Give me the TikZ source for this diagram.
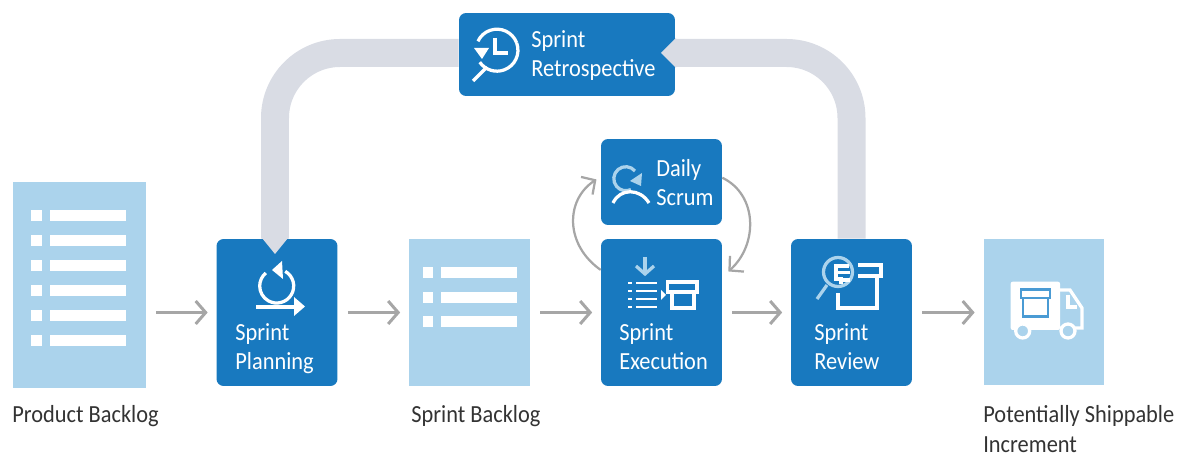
\documentclass[tikz,border=0pt]{standalone}
\usepackage{fontspec}
\setmainfont[FakeStretch=0.91]{Carlito}
\usetikzlibrary{arrows.meta}

\definecolor{boxblue}{HTML}{1879BF}
\definecolor{sheetblue}{HTML}{ABD3EC}
\definecolor{bandgrey}{HTML}{D9DCE4}
\definecolor{flowgrey}{HTML}{A6A6A6}
\definecolor{capgrey}{HTML}{333333}
\definecolor{crateblue}{HTML}{4A9BD4}

\begin{document}
\begin{tikzpicture}[x=0.02cm, y=-0.02cm,
	bluebox/.style={rectangle, fill=boxblue, rounded corners=0.14cm, minimum width=2.42cm, minimum height=2.94cm, inner sep=0pt},
	sheet/.style={rectangle, fill=sheetblue, minimum width=2.42cm, minimum height=2.94cm, inner sep=0pt},
	boxtext/.style={anchor=west, align=left, inner sep=0pt, text=white, font=\fontsize{14}{16.4}\selectfont},
	caption/.style={anchor=west, align=left, inner sep=0pt, text=capgrey, font=\fontsize{14}{17}\selectfont},
	flow/.style={draw=flowgrey, line width=0.06cm, -{Straight Barb[length=0.2cm, width=0.46cm]}, shorten <=0.2cm, shorten >=0.17cm},
	cyc/.style={draw=flowgrey, line width=0.045cm, -{Straight Barb[length=0.2cm, width=0.42cm]}},
	band/.style={draw=bandgrey, line width=0.56cm, rounded corners=1.3cm},
	icon/.style={draw=white, line width=0.065cm},
	lighticon/.style={draw=sheetblue, line width=0.065cm}]

	\useasboundingbox (0,0) rectangle (1178,455);

	\node[sheet, minimum width=2.66cm, minimum height=4.12cm] (product) at (79.5,285){};
	\node[bluebox] (planning) at (277,312.5){};
	\node[sheet] (backlog) at (469.5,312.5){};
	\node[bluebox] (execution) at (661.5,312.5){};
	\node[bluebox, minimum height=1.72cm] (scrum) at (661.5,182){};
	\node[bluebox] (review) at (851.5,312.5){};
	\node[sheet] (increment) at (1044,312){};
	\node[bluebox, minimum width=4.32cm, minimum height=1.66cm] (retro) at (567,54.5){};

	\draw[band] ([xshift=-0.04cm]planning.north) |- (retro.west |- 0,53);
	\draw[band] (retro.east |- 0,53) -| (review.north);
	\fill[bandgrey] (262,238) -- (288,238) -- (275,254) -- cycle;
	\fill[bandgrey] (676,38) -- (661,53) -- (676,68) -- cycle;

	\path (product.east |- planning.west) edge[flow] (planning.west);
	\path (planning.east) edge[flow] (backlog.west);
	\path (backlog.east) edge[flow] (execution.west);
	\path (execution.east) edge[flow] (review.west);
	\path (review.east) edge[flow] (increment.west |- review.east);
	\draw[cyc, shorten >=0.1cm] (execution.145) .. controls (565,245) and (565,200) .. (scrum.175);
	\draw[cyc] (scrum.4) .. controls (758,195) and (758,245) .. ([xshift=0.12cm]execution.34);

	\foreach \y in {216,241,266,291,316,341}{
		\fill[white] (31,\y-5.5) rectangle (42,\y+5.5);
		\fill[white] (50,\y-5.5) rectangle (126,\y+5.5);
	}
	\foreach \y in {273,298,322}{
		\fill[white] (423,\y-5.5) rectangle (433,\y+5.5);
		\fill[white] (441,\y-5.5) rectangle (517,\y+5.5);
	}

	\draw[icon] (285.2,271.3) arc[start angle=-60, end angle=230, radius=17];
	\fill[white] (282,261) -- (272,270) -- (283,279) -- cycle;
	\draw[icon] (256,307) -- (297,307);
	\fill[white] (294,297) -- (305,306.5) -- (294,316) -- cycle;

	\draw[icon] (516.7,43) arc[start angle=-20, end angle=145, radius=21];
	\draw[icon] (516.7,43) arc[start angle=-20, end angle=-155, radius=21];
	\fill[white] (474,48) -- (489,48) -- (482,59) -- cycle;
	\draw[icon] (495,38) -- (495,53) -- (508,53);
	\draw[icon] (487,67) -- (473,81);

	\draw[lighticon] (635,171) arc[start angle=-40, end angle=-295, radius=12];
	\draw[icon] (613,203) .. controls (620,188) and (640,188) .. (649,203);
	\fill[sheetblue] (642,173) -- (630,181) -- (641,186) -- cycle;

	\draw[lighticon] (645,257) -- (645,273);
	\draw[lighticon] (636,266) -- (645,274) -- (654,266);
	\foreach \y in {283,291,299,307}{
		\fill[white] (628,\y-1.4) rectangle (632,\y+1.4);
		\fill[white] (636,\y-1.4) rectangle (657,\y+1.4);
	}
	\fill[white] (661,290) -- (666,295) -- (661,300) -- cycle;
	\draw[icon] (667.5,282) rectangle (697,292);
	\draw[icon] (672,292) rectangle (694,308);

	\draw[lighticon] (838,272) circle[radius=14.5];
	\draw[lighticon] (827,285) -- (817,299);
	\draw[icon] (858,265) -- (881,265) -- (881,276) -- (858,276);
	\draw[icon] (877,276) -- (877,308) -- (838,308) -- (838,293);
	\draw[icon] (849,266) -- (836,266) -- (836,279) -- (841,279) -- (841,284);
	\draw[icon] (836,272.5) -- (850,272.5);
	\draw[icon] (841,280) -- (850,280);

	\fill[white, rounded corners=0.04cm] (1010.7,281.7) rectangle (1060,330);
	\draw[icon] (1060,290) -- (1070,290) -- (1082,308) -- (1082,328) -- (1060,328);
	\draw[icon] (1068,295) -- (1068,307) -- (1077,307);
	\draw[icon, fill=sheetblue] (1022.7,331) circle[radius=7];
	\draw[icon, fill=sheetblue] (1068,331) circle[radius=7];
	\draw[draw=crateblue, line width=0.05cm] (1021,289.5) rectangle (1050,298);
	\draw[draw=crateblue, line width=0.05cm] (1023,298) rectangle (1048,316.5);

	\node[boxtext] (retrolabel) at (531,55.5){Sprint\\Retrospective};
	\node[boxtext] (scrumlabel) at (656,182.5){Daily\\Scrum};
	\node[boxtext] (planninglabel) at (235,349){Sprint\\Planning};
	\node[boxtext] (executionlabel) at (619,347){Sprint\\Execution};
	\node[boxtext] (reviewlabel) at (814,347){Sprint\\Review};

	\node[caption] (productlabel) at (12,416){Product Backlog};
	\node[caption] (backloglabel) at (411,416){Sprint Backlog};
	\node[caption] (incrementlabel) at (983,429){Potentially Shippable\\Increment};
\end{tikzpicture}
\end{document}
